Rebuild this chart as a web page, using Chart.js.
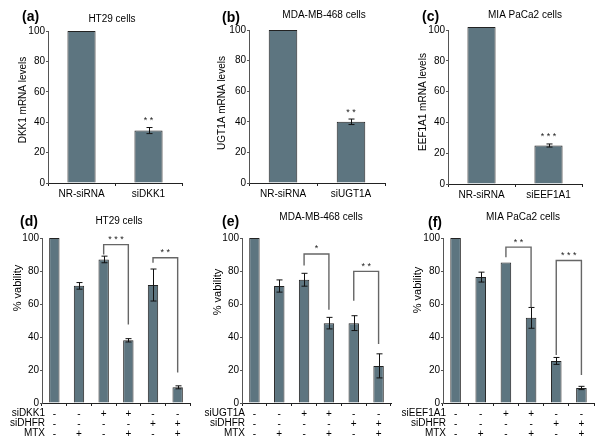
<!DOCTYPE html>
<html>
<head>
<meta charset="utf-8">
<script src="https://cdn.jsdelivr.net/npm/chart.js@4.4.0/dist/chart.umd.min.js"></script>
<style>
  html, body { margin: 0; padding: 0; background: #fff; }
  #wrap { position: relative; width: 600px; height: 447px; overflow: hidden; }
  canvas { position: absolute; }
</style>
</head>
<body>
<div id="wrap">
  <canvas id="pa" width="200" height="205" style="left:0;top:0"></canvas>
  <canvas id="pb" width="200" height="205" style="left:200px;top:0"></canvas>
  <canvas id="pc" width="200" height="205" style="left:400px;top:0"></canvas>
  <canvas id="pd" width="200" height="242" style="left:0;top:205px"></canvas>
  <canvas id="pe" width="200" height="242" style="left:200px;top:205px"></canvas>
  <canvas id="pf" width="200" height="242" style="left:400px;top:205px"></canvas>
</div>
<script>
// top row: mRNA knockdown
const aCats = ['NR-siRNA', 'siDKK1'];
const aValues = [100, 34.5];
const aErrors = [0, 2];
const aStars = ['', '**'];

const bCats = ['NR-siRNA', 'siUGT1A'];
const bValues = [100, 40];
const bErrors = [0, 1.8];
const bStars = ['', '**'];

const cCats = ['NR-siRNA', 'siEEF1A1'];
const cValues = [102, 25];
const cErrors = [0, 1];
const cStars = ['', '***'];

// bottom row: viability, columns described by +/- rows
const siTarget = ['-', '-', '+', '+', '-', '-'];
const siDHFR = ['-', '-', '-', '-', '+', '+'];
const mtx = ['-', '+', '-', '+', '-', '+'];

const dValues = [100, 71, 87, 38, 71.5, 9.5];
const dErrors = [0, 2, 2, 1, 9.7, 0.9];
const eValues = [100, 70.9, 74.7, 48.4, 48.4, 22.5];
const eErrors = [0, 3.7, 3.9, 3.5, 4.5, 7.3];
const fValues = [100, 76.3, 85.2, 51.6, 25.5, 9.1];
const fErrors = [0, 3, 0, 6.3, 2.1, 1];

// brackets: [fromBar, toBar, lineValue, leftEndValue, rightEndValue, stars]
const dBrackets = [[2, 3, 96, 90, 47.6, '***'], [4, 5, 88, 85, 18.5, '**']];
const eBrackets = [[2, 3, 90.3, 83.4, 56.5, '*'], [4, 5, 79.8, 62, 35.8, '**']];
const fBrackets = [[2, 3, 94.5, 88.3, 58.1, '**'], [4, 5, 86.4, 29.1, 16.9, '***']];

const yTicks = [0, 20, 40, 60, 80, 100];

const barFill = '#5d7580';
const font = 'Liberation Sans, Arial, sans-serif';

// draws error bars, stars, brackets, panel letter, titles
const decor = {
  id: 'decor',
  afterDatasetsDraw(chart, args, o) {
    const ctx = chart.ctx, xs = chart.scales.x, ys = chart.scales.y;
    const data = chart.data.datasets[0].data;
    ctx.save();
    ctx.strokeStyle = '#111';
    ctx.lineWidth = 1;
    data.forEach((v, i) => {
      const e = o.errors[i];
      if (!e) return;
      const px = Math.round(xs.getPixelForValue(i)) + 0.5;
      const y1 = ys.getPixelForValue(v + e), y2 = ys.getPixelForValue(v - e);
      ctx.beginPath();
      ctx.moveTo(px, y1); ctx.lineTo(px, y2);
      ctx.moveTo(px - 3, y1); ctx.lineTo(px + 3, y1);
      ctx.moveTo(px - 3, y2); ctx.lineTo(px + 3, y2);
      ctx.stroke();
    });
    ctx.fillStyle = '#222';
    ctx.font = '9px ' + font;
    ctx.textAlign = 'center';
    ctx.textBaseline = 'middle';
    (o.stars || []).forEach((s, i) => {
      if (!s) return;
      const top = ys.getPixelForValue(data[i] + (o.errors[i] || 0));
      ctx.fillText(s.split('').join(' '), xs.getPixelForValue(i), top - 7);
    });
    ctx.strokeStyle = '#666';
    ctx.lineWidth = 1.4;
    (o.brackets || []).forEach(b => {
      const x1 = xs.getPixelForValue(b[0]), x2 = xs.getPixelForValue(b[1]);
      const yl = ys.getPixelForValue(b[2]);
      ctx.beginPath();
      ctx.moveTo(x1, ys.getPixelForValue(b[3]));
      ctx.lineTo(x1, yl);
      ctx.lineTo(x2, yl);
      ctx.lineTo(x2, ys.getPixelForValue(b[4]));
      ctx.stroke();
      ctx.fillText(b[5].split('').join(' '), (x1 + x2) / 2, yl - 5);
    });
    ctx.restore();
  },
  afterDraw(chart, args, o) {
    const ctx = chart.ctx, area = chart.chartArea, xs = chart.scales.x;
    ctx.save();
    ctx.fillStyle = '#000';
    ctx.textBaseline = 'middle';
    ctx.font = 'bold 14px ' + font;
    ctx.textAlign = 'left';
    ctx.fillText(o.letter, o.letterPos[0], o.letterPos[1]);
    ctx.font = '10px ' + font;
    ctx.textAlign = 'center';
    ctx.fillText(o.title, o.titlePos[0], o.titlePos[1]);
    ctx.save();
    ctx.translate(o.yTitlePos[0], o.yTitlePos[1]);
    ctx.rotate(-Math.PI / 2);
    ctx.font = o.yTitleFont + ' ' + font;
    ctx.fillText(o.yTitle, 0, 0);
    ctx.restore();
    if (o.rows) {
      ctx.font = '10px ' + font;
      ctx.textAlign = 'right';
      const rowY = xs.top + 10;
      o.rows.forEach((r, k) => ctx.fillText(r, area.left + 3, rowY + k * 10));
    }
    ctx.restore();
  }
};

function makeChart(id, labels, values, opt) {
  new Chart(document.getElementById(id), {
    type: 'bar',
    data: {
      labels: labels,
      datasets: [{
        data: values,
        backgroundColor: barFill,
        borderColor: '#222',
        borderWidth: 1,
        barPercentage: 0.42,
        categoryPercentage: 1,
        clip: false
      }]
    },
    options: {
      responsive: false,
      animation: false,
      events: [],
      layout: { padding: { left: 0, right: opt.right, top: opt.top, bottom: 0 } },
      plugins: {
        legend: { display: false },
        tooltip: { enabled: false },
        decor: opt.decor
      },
      scales: {
        x: {
          afterFit: s => { s.height = opt.xHeight; },
          border: { color: '#222', width: 1 },
          grid: { display: true, drawOnChartArea: false, offset: true, tickLength: 3, color: '#222' },
          ticks: { color: '#000', font: { family: font, size: 10, lineHeight: 1 }, padding: opt.xPad, maxRotation: 0, autoSkip: false }
        },
        y: {
          min: 0, max: 100,
          afterFit: s => { s.width = opt.left; },
          afterBuildTicks: s => { s.ticks = yTicks.map(v => ({ value: v })); },
          border: { color: '#555', width: 1 },
          grid: { display: true, drawOnChartArea: false, tickLength: 2, color: '#555' },
          ticks: { color: '#000', font: { family: font, size: 10 }, padding: 1 }
        }
      }
    },
    plugins: [decor]
  });
}

const bottomLabels = siTarget.map((s, i) => [s, siDHFR[i], mtx[i]]);

makeChart('pa', aCats, aValues, {
  left: 48, right: 18, top: 31, xHeight: 22, xPad: 3,
  decor: { errors: aErrors, stars: aStars, letter: '(a)', letterPos: [22, 17], title: 'HT29 cells', titlePos: [112, 19],
    yTitle: 'DKK1 mRNA levels', yTitlePos: [23, 100], yTitleFont: '10px' }
});
makeChart('pb', bCats, bValues, {
  left: 49, right: 15, top: 30, xHeight: 22, xPad: 3,
  decor: { errors: bErrors, stars: bStars, letter: '(b)', letterPos: [22, 18], title: 'MDA-MB-468 cells', titlePos: [124, 15],
    yTitle: 'UGT1A mRNA levels', yTitlePos: [22, 103], yTitleFont: '10px' }
});
makeChart('pc', cCats, cValues, {
  left: 48, right: 18, top: 30, xHeight: 21, xPad: 3,
  decor: { errors: cErrors, stars: cStars, letter: '(c)', letterPos: [22, 17], title: 'MIA PaCa2 cells', titlePos: [125, 15],
    yTitle: 'EEF1A1 mRNA levels', yTitlePos: [23, 102], yTitleFont: '10px' }
});
makeChart('pd', bottomLabels, dValues, {
  left: 42, right: 10, top: 33, xHeight: 44, xPad: 3,
  decor: { errors: dErrors, brackets: dBrackets, letter: '(d)', letterPos: [20, 17], title: 'HT29 cells', titlePos: [119, 16],
    yTitle: '% vability', yTitlePos: [18, 83], yTitleFont: '11px', rows: ['siDKK1', 'siDHFR', 'MTX'] }
});
makeChart('pe', bottomLabels, eValues, {
  left: 42, right: 9, top: 33, xHeight: 44, xPad: 3,
  decor: { errors: eErrors, brackets: eBrackets, letter: '(e)', letterPos: [22, 17], title: 'MDA-MB-468 cells', titlePos: [121, 12],
    yTitle: '% vability', yTitlePos: [18, 87], yTitleFont: '11px', rows: ['siUGT1A', 'siDHFR', 'MTX'] }
});
makeChart('pf', bottomLabels, fValues, {
  left: 43, right: 6, top: 33, xHeight: 44, xPad: 3,
  decor: { errors: fErrors, brackets: fBrackets, letter: '(f)', letterPos: [28, 18], title: 'MIA PaCa2 cells', titlePos: [123, 12],
    yTitle: '% vability', yTitlePos: [18, 85], yTitleFont: '11px', rows: ['siEEF1A1', 'siDHFR', 'MTX'] }
});
</script>
</body>
</html>
